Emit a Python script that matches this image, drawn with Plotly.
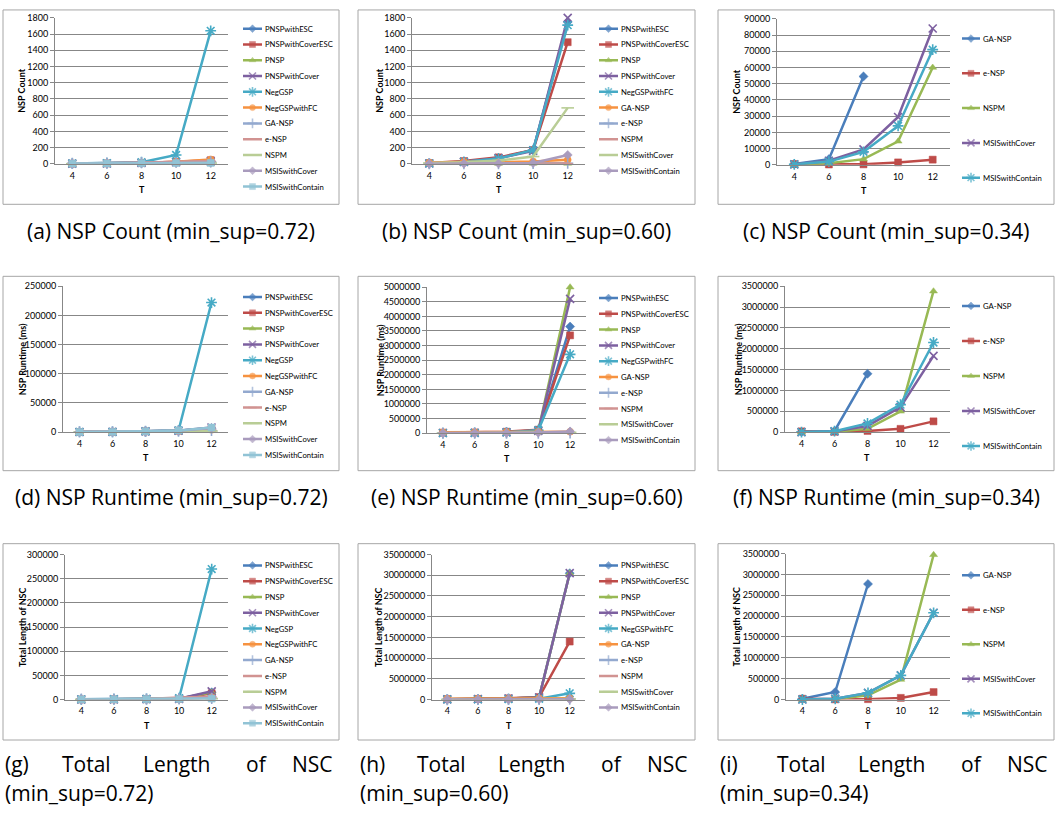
import plotly.graph_objects as go

W, H = 1063, 819
T = [4, 6, 8, 10, 12]

SERIES_11 = ["PNSPwithESC", "PNSPwithCoverESC", "PNSP", "PNSPwithCover", "NegGSP", "NegGSPwithFC",
             "GA-NSP", "e-NSP", "NSPM", "MSISwithCover", "MSISwithContain"]
SERIES_10 = ["PNSPwithESC", "PNSPwithCoverESC", "PNSP", "PNSPwithCover", "NegGSPwithFC",
             "GA-NSP", "e-NSP", "NSPM", "MSISwithCover", "MSISwithContain"]
SERIES_5 = ["GA-NSP", "e-NSP", "NSPM", "MSISwithCover", "MSISwithContain"]

# (a) NSP Count, min_sup=0.72
count_072 = {
    "PNSPwithESC": [2, 5, 10, 20, 30],
    "PNSPwithCoverESC": [2, 6, 12, 25, 45],
    "PNSP": [1, 3, 6, 10, 15],
    "PNSPwithCover": [2, 5, 10, 20, 30],
    "NegGSP": [5, 10, 20, 110, 1640],
    "NegGSPwithFC": [3, 6, 12, 25, 55],
    "GA-NSP": [5, 10, 15, 20, 25],
    "e-NSP": [5, 8, 15, 25, 35],
    "NSPM": [1, 2, 4, 6, 10],
    "MSISwithCover": [3, 5, 8, 12, 15],
    "MSISwithContain": [3, 5, 8, 10, 12],
}
# (b) NSP Count, min_sup=0.60
count_060 = {
    "PNSPwithESC": [5, 25, 70, 170, 1750],
    "PNSPwithCoverESC": [10, 35, 80, 170, 1500],
    "PNSP": [1, 2, 3, 5, 5],
    "PNSPwithCover": [5, 25, 70, 160, 1800],
    "NegGSPwithFC": [5, 25, 65, 170, 1710],
    "GA-NSP": [15, 25, 20, 30, 50],
    "e-NSP": [2, 3, 4, 5, 8],
    "NSPM": [1, 2, 2, 3, 3],
    "MSISwithCover": [10, 20, 40, 90, 690],
    "MSISwithContain": [2, 3, 5, 10, 110],
}
# (c) NSP Count, min_sup=0.34
count_034 = {
    "GA-NSP": [500, 3500, 54500, None, None],
    "e-NSP": [500, 200, 300, 1500, 3200],
    "NSPM": [100, 1000, 3500, 14500, 60000],
    "MSISwithCover": [300, 2500, 9500, 29500, 84000],
    "MSISwithContain": [300, 2000, 8000, 24000, 71000],
}
# (d) NSP Runtime, min_sup=0.72
runtime_072 = {
    "PNSPwithESC": [300, 500, 1500, 2500, 7000],
    "PNSPwithCoverESC": [300, 500, 1500, 2500, 6500],
    "PNSP": [200, 400, 1200, 2000, 6000],
    "PNSPwithCover": [300, 500, 1500, 2500, 8000],
    "NegGSP": [500, 500, 1500, 3000, 222000],
    "NegGSPwithFC": [300, 400, 1000, 2000, 4000],
    "GA-NSP": [800, 800, 1500, 2000, 3000],
    "e-NSP": [300, 400, 800, 1500, 3000],
    "NSPM": [100, 200, 500, 1000, 2000],
    "MSISwithCover": [300, 500, 1200, 2500, 7000],
    "MSISwithContain": [300, 500, 1500, 3000, 8000],
}
# (e) NSP Runtime, min_sup=0.60
runtime_060 = {
    "PNSPwithESC": [10000, 15000, 40000, 100000, 3650000],
    "PNSPwithCoverESC": [20000, 25000, 50000, 120000, 3350000],
    "PNSP": [5000, 10000, 30000, 80000, 5000000],
    "PNSPwithCover": [5000, 10000, 30000, 80000, 4600000],
    "NegGSPwithFC": [5000, 10000, 30000, 100000, 2700000],
    "GA-NSP": [30000, 30000, 40000, 50000, 50000],
    "e-NSP": [1000, 2000, 3000, 5000, 10000],
    "NSPM": [500, 1000, 2000, 4000, 8000],
    "MSISwithCover": [1000, 2000, 5000, 10000, 30000],
    "MSISwithContain": [2000, 3000, 5000, 20000, 60000],
}
# (f) NSP Runtime, min_sup=0.34
runtime_034 = {
    "GA-NSP": [5000, 30000, 1400000, None, None],
    "e-NSP": [20000, 10000, 30000, 80000, 260000],
    "NSPM": [1000, 10000, 80000, 500000, 3380000],
    "MSISwithCover": [2000, 20000, 150000, 600000, 1830000],
    "MSISwithContain": [2000, 25000, 210000, 660000, 2150000],
}
# (g) Total Length of NSC, min_sup=0.72
length_072 = {
    "PNSPwithESC": [200, 400, 800, 1500, 15000],
    "PNSPwithCoverESC": [200, 400, 800, 1500, 13000],
    "PNSP": [200, 400, 800, 1500, 15000],
    "PNSPwithCover": [200, 400, 800, 1500, 17000],
    "NegGSP": [500, 800, 1500, 3000, 270000],
    "NegGSPwithFC": [200, 300, 600, 1200, 5000],
    "GA-NSP": [800, 900, 1000, 1500, 2500],
    "e-NSP": [300, 500, 1000, 4000, 6000],
    "NSPM": [100, 200, 400, 800, 2000],
    "MSISwithCover": [300, 400, 800, 1500, 3000],
    "MSISwithContain": [300, 400, 800, 1200, 2000],
}
# (h) Total Length of NSC, min_sup=0.60
length_060 = {
    "PNSPwithESC": [50000, 100000, 250000, 500000, 30500000],
    "PNSPwithCoverESC": [100000, 150000, 300000, 600000, 14000000],
    "PNSP": [50000, 100000, 250000, 500000, 30500000],
    "PNSPwithCover": [50000, 100000, 250000, 500000, 30500000],
    "NegGSPwithFC": [20000, 40000, 80000, 200000, 1500000],
    "GA-NSP": [200000, 200000, 200000, 300000, 300000],
    "e-NSP": [5000, 10000, 20000, 40000, 80000],
    "NSPM": [2000, 5000, 10000, 20000, 50000],
    "MSISwithCover": [10000, 20000, 40000, 80000, 150000],
    "MSISwithContain": [10000, 20000, 40000, 60000, 100000],
}
# (i) Total Length of NSC, min_sup=0.34
length_034 = {
    "GA-NSP": [20000, 180000, 2770000, None, None],
    "e-NSP": [20000, 5000, 10000, 40000, 180000],
    "NSPM": [1000, 10000, 100000, 480000, 3470000],
    "MSISwithCover": [2000, 20000, 160000, 580000, 2080000],
    "MSISwithContain": [2000, 20000, 160000, 580000, 2080000],
}

Y_TITLES = ["NSP Count", "NSP Runtime (ms)", "Total Length of NSC"]
CAP_METRIC = ["NSP Count", "NSP Runtime", "Total Length of NSC"]
MINSUP = ["0.72", "0.60", "0.34"]
LETTERS = "abcdefghi"

# styles (Excel 2007 default palette)
COLORS = ["#4A7EBB", "#BE4B48", "#98B954", "#7D60A0", "#46AAC5", "#F69240",
          "#93A9CF", "#D19392", "#B9CD96", "#A99BBD", "#91C3D5"]
SYMBOLS = ["diamond", "square", "triangle-up", "x-thin-open", "asterisk-open", "circle",
           "cross-thin-open", "line-ew-open", "line-ew-open", "diamond", "square"]
SIZES = [7, 7, 7, 8, 9, 7, 8, 7, 9, 7, 7]

# panel layout in pixels
panels = [
    dict(data=count_072, series=SERIES_11, ymax=1800, dtick=200, px=(55, 228), py=(12, 160), ylx=22, lx=(243, 262), ly=23, ls=16),
    dict(data=count_060, series=SERIES_10, ymax=1800, dtick=200, px=(412, 585), py=(12, 160), ylx=380, lx=(599, 618), ly=23, ls=16),
    dict(data=count_034, series=SERIES_5, ymax=90000, dtick=10000, px=(777, 950), py=(13, 161), ylx=737, lx=(962, 980), ly=33, ls=35.25),
    dict(data=runtime_072, series=SERIES_11, ymax=250000, dtick=50000, px=(63, 228), py=(284, 432), ylx=22, lx=(243, 262), ly=295, ls=16),
    dict(data=runtime_060, series=SERIES_10, ymax=5000000, dtick=500000, px=(427, 586), py=(285, 433), ylx=380, lx=(599, 618), ly=296, ls=16),
    dict(data=runtime_034, series=SERIES_5, ymax=3500000, dtick=500000, px=(785, 950), py=(284, 432), ylx=738, lx=(962, 980), ly=304, ls=35.5),
    dict(data=length_072, series=SERIES_11, ymax=300000, dtick=50000, px=(65, 228), py=(556, 703), ylx=22, lx=(243, 262), ly=567, ls=16),
    dict(data=length_060, series=SERIES_10, ymax=35000000, dtick=5000000, px=(432, 585), py=(556, 703), ylx=378, lx=(599, 618), ly=567, ls=16),
    dict(data=length_034, series=SERIES_5, ymax=3500000, dtick=500000, px=(786, 950), py=(555, 703), ylx=737, lx=(962, 980), ly=577, ls=35),
]
BOX_X = [(3, 339), (358, 695), (718, 1054)]
BOX_Y = [(4, 201), (274, 471), (545, 744)]

def fx(p):
    return p / W

def fy(p):
    return 1 - p / H

EXCEL_FONT = "Lato"
CAP_FONT = "Open Sans"

fig = go.Figure()
layout = dict(width=W, height=H, margin=dict(l=0, r=0, t=0, b=0),
              paper_bgcolor="white", plot_bgcolor="white", showlegend=False)
annotations = []
shapes = []

for k, p in enumerate(panels):
    r, c = divmod(k, 3)
    ai = k + 1
    li = k + 10
    xa = "x" if ai == 1 else f"x{ai}"
    ya = "y" if ai == 1 else f"y{ai}"
    layout[f"xaxis{ai}"] = dict(
        domain=[fx(p["px"][0]), fx(p["px"][1])], anchor=ya, range=[3, 13],
        tickvals=T, ticktext=[str(t) for t in T], showgrid=False, zeroline=False,
        showline=True, linecolor="#878787", linewidth=1, ticks="", ticklabelstandoff=3,
        tickfont=dict(family=EXCEL_FONT, size=9, color="black"), fixedrange=True)
    layout[f"yaxis{ai}"] = dict(
        domain=[fy(p["py"][1]), fy(p["py"][0])], anchor=xa, range=[0, p["ymax"]],
        dtick=p["dtick"], tick0=0, tickformat="d", showgrid=True, gridcolor="#878787",
        gridwidth=1, zeroline=False, showline=True, linecolor="#878787", linewidth=1,
        ticks="outside", ticklen=4, tickcolor="#878787",
        tickfont=dict(family=EXCEL_FONT, size=9, color="black"), fixedrange=True)
    # legend axes
    n = len(p["series"])
    top = p["ly"] - p["ls"] / 2
    bot = p["ly"] + (n - 1) * p["ls"] + p["ls"] / 2
    lxa = f"x{li}"
    lya = f"y{li}"
    layout[f"xaxis{li}"] = dict(domain=[fx(p["lx"][0]), fx(p["lx"][1])], anchor=lya,
                                range=[0, 1], visible=False, fixedrange=True)
    layout[f"yaxis{li}"] = dict(domain=[fy(bot), fy(top)], anchor=lxa,
                                range=[n - 0.5, -0.5], visible=False, fixedrange=True)

    for i, name in enumerate(p["series"]):
        col = COLORS[i]
        sym = SYMBOLS[i]
        is_open = sym.endswith("-open")
        marker = dict(symbol=sym, size=SIZES[i], color=col,
                      line=dict(color=col, width=1.6 if is_open else 0.5))
        fig.add_trace(go.Scatter(
            x=T, y=p["data"][name], mode="lines+markers", name=name,
            line=dict(color=col, width=2.5), marker=marker, xaxis=xa, yaxis=ya,
            cliponaxis=False, connectgaps=False, showlegend=False))
        # legend swatch
        lm = dict(marker)
        lm["size"] = [0, SIZES[i] - 1, 0]
        fig.add_trace(go.Scatter(
            x=[0, 0.5, 1], y=[i, i, i], mode="lines+markers",
            line=dict(color=col, width=2.5), marker=lm, xaxis=lxa, yaxis=lya,
            cliponaxis=False, showlegend=False, hoverinfo="skip"))
        annotations.append(dict(xref=lxa, yref=lya, x=1, y=i, text=name, showarrow=False,
                                xanchor="left", yanchor="middle", xshift=1,
                                font=dict(family=EXCEL_FONT, size=7.7, color="black")))

    # axis titles
    annotations.append(dict(xref="paper", yref="paper", x=fx(p["ylx"]),
                            y=fy((p["py"][0] + p["py"][1]) / 2), text=f"<b>{Y_TITLES[r]}</b>",
                            textangle=-90, showarrow=False, xanchor="center", yanchor="middle",
                            font=dict(family=EXCEL_FONT, size=9, color="black")))
    annotations.append(dict(xref="paper", yref="paper", x=fx((p["px"][0] + p["px"][1]) / 2),
                            y=fy(p["py"][1] + 26), text="<b>T</b>", showarrow=False,
                            xanchor="center", yanchor="middle",
                            font=dict(family=EXCEL_FONT, size=9, color="black")))
    # panel box
    bx, by = BOX_X[c], BOX_Y[r]
    shapes.append(dict(type="rect", xref="paper", yref="paper", x0=fx(bx[0]), x1=fx(bx[1]),
                       y0=fy(by[1]), y1=fy(by[0]), line=dict(color="#A6A6A6", width=1),
                       fillcolor="rgba(0,0,0,0)", layer="below"))
    # captions
    letter = LETTERS[k]
    cap_font = dict(family=CAP_FONT, size=21, color="black")
    if r < 2:
        annotations.append(dict(xref="paper", yref="paper", x=fx((bx[0] + bx[1]) / 2),
                                y=fy(by[1] + 27),
                                text=f"({letter}) {CAP_METRIC[r]} (min_sup={MINSUP[c]})",
                                showarrow=False, xanchor="center", yanchor="middle", font=cap_font))
    else:
        left, right = bx[0], bx[0] + 332
        words = [f"({letter})", "Total", "Length", "of", "NSC"]
        fr = [0.0, 0.25, 0.523, 0.764, 1.0]
        anchors = ["left", "center", "center", "center", "right"]
        for w_, f_, a_ in zip(words, fr, anchors):
            annotations.append(dict(xref="paper", yref="paper", x=fx(left + f_ * (right - left)),
                                    y=fy(768), text=w_, showarrow=False, xanchor=a_,
                                    yanchor="middle", font=cap_font))
        annotations.append(dict(xref="paper", yref="paper", x=fx(left), y=fy(798),
                                text=f"(min_sup={MINSUP[c]})", showarrow=False,
                                xanchor="left", yanchor="middle", font=cap_font))

layout["annotations"] = annotations
layout["shapes"] = shapes
fig.update_layout(**layout)
fig.write_html("out.html", config={"displayModeBar": False},
               post_script="document.body.style.margin='0';document.body.style.overflow='hidden';")
